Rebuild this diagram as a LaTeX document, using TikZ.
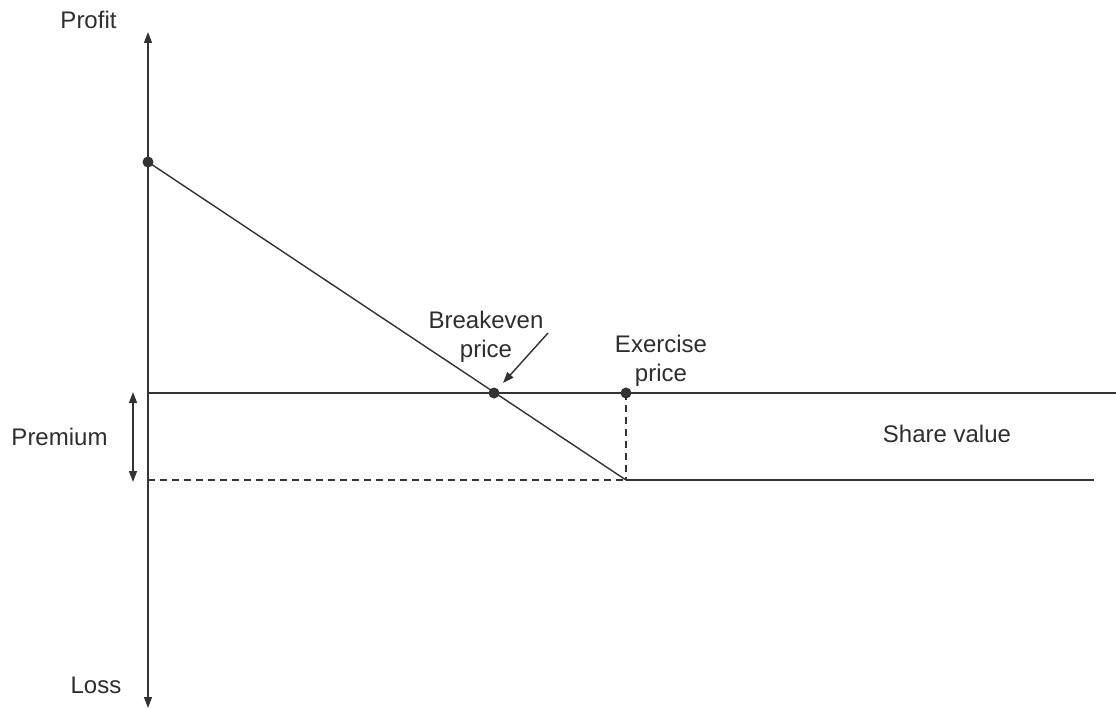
\documentclass[tikz,border=0pt]{standalone}
\usepackage{fontspec}
\setmainfont{Liberation Sans}
\usetikzlibrary{arrows.meta}
\definecolor{lncol}{HTML}{333333}
\definecolor{txcol}{HTML}{2E2E2E}
\tikzset{
  ln/.style={draw=lncol, line width=1.4pt},
  dsh/.style={dash pattern=on 7pt off 5pt},
  dot/.style={circle, fill=lncol, inner sep=0pt, outer sep=0pt, minimum size=11pt},
  lab/.style={font=\fontsize{24}{28.5}\selectfont, text=txcol, inner sep=0pt},
  tipe/.style={-{Triangle[length=11pt,width=8pt]}},
  tipb/.style={{Triangle[length=11pt,width=8pt]}-{Triangle[length=11pt,width=8pt]}},
}
\begin{document}
\begin{tikzpicture}[x=1pt,y=-1pt]
\useasboundingbox (0,0) rectangle (1116,709);
% axis
\coordinate (ytop) at (148,32);
\coordinate (ybot) at (148,708);
\draw[ln, tipb] (ybot) -- (ytop);
% points
\node[dot] (p0) at (148,162) {};
\node[dot] (be) at (494,393) {};
\node[dot] (ex) at (626,393) {};
\coordinate (kink) at (626,480);
\coordinate (h1l) at (148,393);
\coordinate (h1r) at (1116,393);
\coordinate (h2l) at (148,480);
\coordinate (h2r) at (1094,480);
% lines
\draw[ln] (p0.center) -- (kink);
\draw[ln] (h1l) -- (h1r);
\draw[ln, dsh] (h2l) -- (kink);
\draw[ln] (kink) -- (h2r);
\draw[ln, dsh] (ex.center) -- (kink);
% premium arrow
\coordinate (pt) at (133,392);
\coordinate (pb) at (133,482);
\draw[ln, tipb] (pb) -- (pt);
% labels
\node[lab, anchor=base] (profit) at (88.5,29) {Profit};
\node[lab, anchor=base] (loss) at (96,693) {Loss};
\node[lab, anchor=base] (premium) at (59.5,445) {Premium};
\node[lab, anchor=base] (share) at (947,442) {Share value};
\node[lab, anchor=base, align=center] (bel) at (486,357) {Breakeven\\price};
\node[lab, anchor=base, align=center] (exl) at (661,381) {Exercise\\price};
% breakeven pointer
\coordinate (bea) at (548,333);
\draw[ln, tipe, shorten >=8pt] (bea) -- (be);
\end{tikzpicture}
\end{document}
